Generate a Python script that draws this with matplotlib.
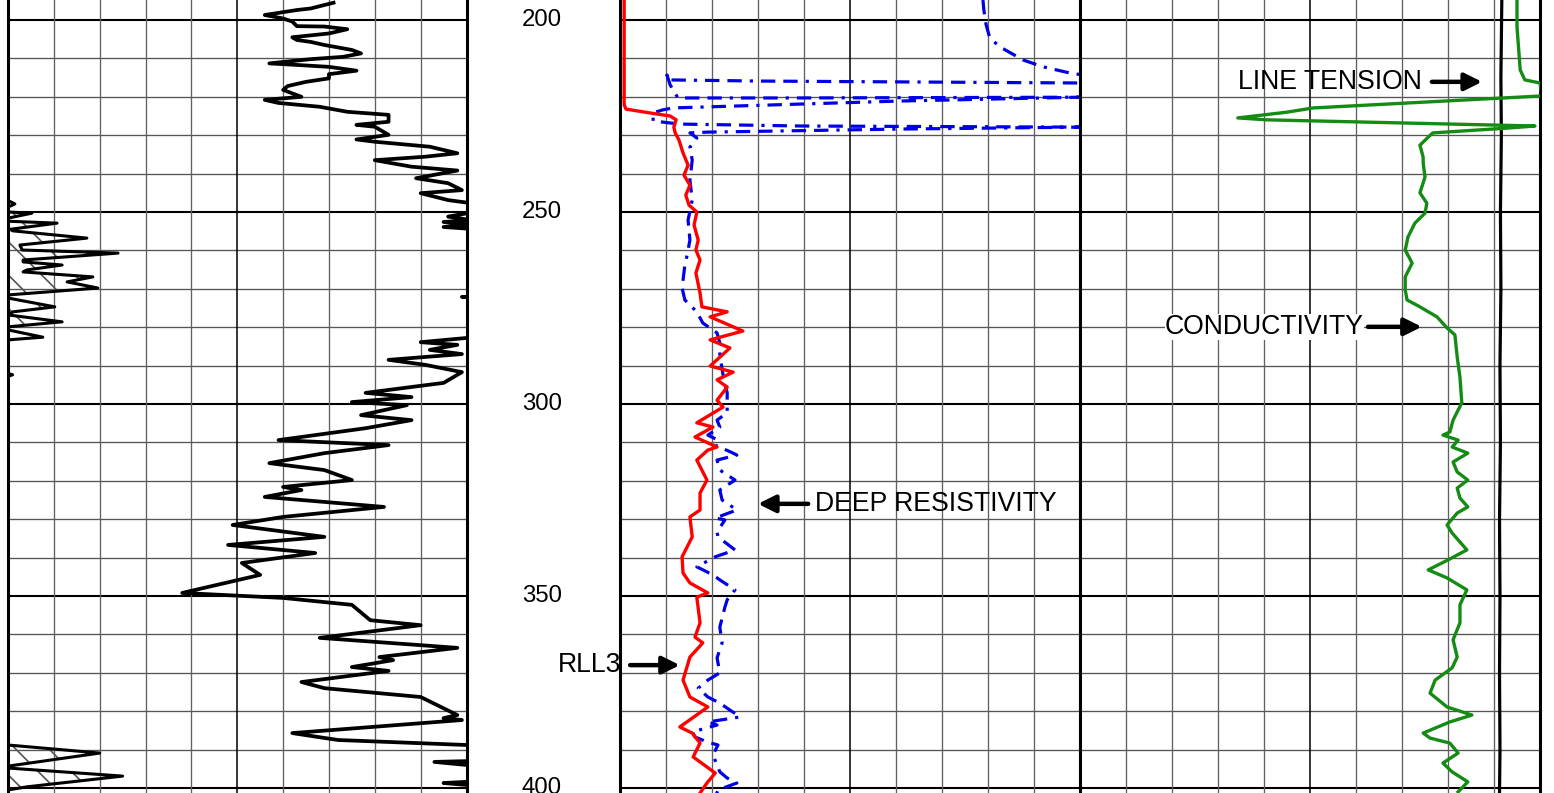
import matplotlib.pyplot as plt

plt.rcParams['font.family'] = ['Liberation Sans', 'DejaVu Sans']
plt.rcParams['hatch.linewidth'] = 1.2

# Depth range shown (ft)
depth_top, depth_bottom = 194.79, 401.30
depth_labels = [200, 250, 300, 350, 400]

# Track 1: gamma ray (0-100 scale, goes off scale to the right)
gr_depth = [195.5, 197.0, 197.4, 198.7, 199.6, 200.4, 201.6, 201.7, 202.4, 203.5, 204.5, 205.2, 205.7, 206.5,
            207.8, 208.7, 209.6, 210.2, 211.3, 211.7, 212.2, 213.2, 214.1, 215.2, 216.1, 217.2, 218.2, 220.0,
            220.8, 221.6, 222.6, 223.9, 224.7, 226.5, 227.3, 227.8, 229.9, 231.1, 231.7, 233.0, 234.7, 235.6,
            236.5, 238.2, 239.2, 241.2, 242.5, 244.3, 245.1, 246.9, 247.7, 249.5, 251.2, 252.1, 252.6, 253.4,
            253.9, 254.4, 255.2, 272.0, 272.1, 272.3, 282.6, 282.8, 283.9, 284.6, 285.9, 287.0, 288.5, 289.8,
            291.7, 294.5, 297.1, 298.2, 299.5, 300.3, 302.9, 304.2, 306.3, 309.4, 310.7, 312.8, 315.4, 317.2,
            319.8, 321.6, 322.4, 324.2, 326.8, 329.4, 331.5, 334.6, 336.7, 338.8, 341.4, 344.5, 349.2, 350.5,
            352.3, 356.3, 357.6, 360.9, 363.5, 365.9, 366.7, 368.5, 369.5, 372.4, 374.0, 376.3, 381.0, 381.8,
            382.3, 385.7, 387.5, 388.8, 389.5, 392.5, 393.0, 393.2, 394.0, 395.0, 398.0, 398.4, 398.7, 399.2,
            400.0, 401.3]
gr_value = [71, 66, 63, 56, 60, 62, 63, 69, 74, 70, 62, 63, 66, 69,
            75, 77, 73, 66, 57, 63, 70, 76, 70, 70, 65, 61, 60, 64,
            56, 59, 68, 74, 83, 83, 76, 80, 83, 76, 80, 92, 98, 91,
            80, 88, 98, 89, 96, 99, 90, 96, 101, 104, 96, 101, 95, 101,
            95, 101, 110, 110, 99, 110, 110, 100, 90, 98, 92, 99, 83, 91,
            99, 95, 78, 88, 75, 87, 77, 88, 78, 59, 83, 69, 57, 69,
            75, 60, 64, 56, 82, 60, 49, 69, 48, 67, 51, 55, 38, 60,
            75, 79, 90, 68, 98, 81, 84, 75, 83, 64, 69, 90, 98, 95,
            99, 62, 72, 100, 110, 110, 100, 93, 100, 110, 110, 100, 95, 100,
            110, 110]

# Track 1: shaded curve near the left edge
sp_depth = [194.8, 247.0, 247.9, 248.7, 250.0, 250.3, 251.6, 252.4, 252.9, 254.5, 254.9, 256.8, 258.6, 259.9,
            260.7, 262.5, 263.0, 263.8, 265.1, 265.6, 266.9, 268.2, 269.8, 271.6, 272.4, 274.7, 276.0, 276.8,
            278.6, 279.9, 280.7, 282.6, 283.3, 292.0, 292.4, 292.8, 388.8, 390.9, 394.3, 394.8, 396.9, 399.7,
            400.5, 401.3]
sp_value = [0, 0, 1.5, 0, 0, 5.2, 0, 0, 10.7, 0.5, 1.0, 17.2, 2.6, 3.1,
            24.0, 3.3, 3.3, 11.8, 4.1, 3.3, 18.5, 12.9, 19.6, 0, 0, 10.2, 1.1, 0,
            11.8, 0, 0, 7.6, 0, 0, 1.0, 0, 0, 20.0, 0, 0, 25.0, 4.1,
            0, 0]

# Track 2: RLL3 (red) and deep resistivity (blue)
rll3_depth = [194.8, 222.1, 223.2, 224.2, 225.0, 226.0, 227.9, 229.4, 231.2, 234.6, 237.8, 240.4, 243.0, 245.6,
              248.2, 250.0, 253.4, 257.3, 259.9, 262.5, 265.9, 271.1, 274.7, 276.0, 277.3, 281.0, 283.3, 285.4,
              290.1, 291.7, 293.7, 295.6, 299.0, 300.8, 304.9, 306.0, 308.6, 311.2, 312.0, 314.6, 319.8, 323.2,
              327.6, 329.4, 334.6, 339.8, 344.0, 346.6, 349.2, 350.3, 357.0, 360.7, 362.2, 365.9, 371.9, 376.3,
              378.9, 384.1, 385.7, 388.3, 391.9, 396.1, 398.7, 401.3]
rll3_value = [0.9, 0.9, 1.3, 6.5, 10.9, 12.2, 11.7, 12.0, 12.8, 13.7, 14.8, 13.9, 15.2, 14.3,
              15.0, 16.7, 16.1, 17.0, 16.5, 17.4, 16.5, 17.4, 17.8, 23.3, 19.6, 26.7, 19.6, 23.9,
              19.6, 24.6, 21.1, 23.3, 21.1, 22.4, 16.7, 20.2, 16.3, 21.1, 19.1, 16.7, 18.9, 17.4,
              17.4, 15.2, 15.7, 13.5, 13.7, 15.2, 19.1, 16.7, 17.4, 16.3, 18.0, 15.2, 13.7, 15.2,
              19.1, 13.0, 15.7, 17.4, 15.9, 20.7, 18.9, 17.4]

deep_depth = [194.8, 197.4, 201.3, 204.7, 207.0, 210.4, 212.2, 213.8, 214.6, 216.4, 216.4, 215.9, 215.6, 214.3,
              216.9, 220.3, 220.3, 220.1, 221.1, 222.9, 223.4, 224.2, 226.3, 227.1, 227.6, 227.9, 228.4, 229.2,
              229.4, 230.7, 233.1, 236.5, 241.7, 246.9, 252.1, 257.3, 261.2, 263.8, 269.8, 272.9, 276.0, 278.9,
              281.5, 284.1, 287.2, 292.4, 297.1, 302.3, 304.2, 306.0, 308.1, 309.4, 310.7, 312.8, 313.3, 314.6,
              317.2, 319.8, 322.4, 325.0, 327.6, 329.7, 330.2, 333.3, 334.6, 338.0, 339.8, 342.4, 344.5, 345.8,
              348.4, 351.0, 352.9, 358.1, 362.2, 366.1, 370.0, 371.9, 374.0, 376.3, 377.9, 381.5, 382.8, 383.6,
              385.4, 386.7, 388.0, 388.8, 391.4, 395.8, 397.4, 398.7, 400.5, 401.8]
deep_value = [78.9, 79.1, 79.6, 80.4, 82.6, 87.6, 92.0, 97.8, 102.2, 102.2, 100.0, 30.4, 10.4, 10.2,
              10.9, 12.6, 39.1, 100.0, 60.9, 11.5, 9.3, 7.2, 7.2, 13.0, 39.1, 100.0, 60.9, 18.9,
              15.2, 16.7, 15.2, 15.7, 15.2, 15.7, 14.8, 15.2, 14.6, 14.1, 13.5, 14.1, 16.7, 18.0,
              21.1, 21.7, 21.7, 22.4, 23.3, 23.3, 21.1, 21.7, 19.1, 21.3, 20.7, 24.6, 25.4, 21.1,
              21.7, 25.0, 21.7, 22.2, 25.4, 20.7, 22.8, 21.1, 21.3, 25.0, 20.7, 16.7, 20.2, 21.7,
              25.0, 23.3, 22.8, 21.7, 22.2, 21.1, 21.7, 19.1, 17.0, 19.1, 21.7, 26.1, 19.1, 21.1,
              15.7, 16.3, 18.9, 21.3, 20.2, 21.7, 23.3, 25.4, 21.3, 20.9]

# Track 3: conductivity (green) and line tension (black)
cond_depth = [194.8, 201.8, 213.0, 215.6, 216.4, 219.5, 219.8, 222.9, 224.0, 225.5, 226.0, 227.6, 228.1, 229.4,
              230.5, 232.6, 235.7, 237.2, 240.9, 245.0, 247.7, 250.3, 252.9, 256.5, 259.9, 263.3, 266.9, 270.3,
              272.9, 274.7, 277.3, 280.2, 282.0, 287.8, 293.0, 299.7, 304.2, 307.3, 308.1, 309.4, 311.2, 312.8,
              315.1, 317.7, 319.8, 321.9, 324.5, 326.8, 328.4, 331.5, 333.6, 338.0, 340.6, 343.2, 345.3, 348.4,
              352.3, 357.0, 361.4, 365.9, 368.7, 371.9, 375.3, 378.9, 381.0, 382.8, 385.7, 387.0, 388.3, 390.9,
              393.5, 395.8, 398.4, 401.0]
cond_value = [95.0, 95.0, 95.7, 96.7, 100.0, 100.4, 100.0, 50.7, 45.0, 34.3, 40.7, 98.9, 93.5, 76.7,
              75.7, 73.9, 74.6, 74.6, 75.0, 73.9, 75.4, 75.0, 72.8, 71.3, 70.7, 72.2, 70.7, 70.7,
              71.1, 73.9, 77.6, 79.8, 81.5, 82.0, 82.6, 83.0, 81.1, 80.4, 78.9, 82.2, 80.9, 84.3,
              81.1, 82.0, 84.3, 82.0, 82.6, 84.3, 82.0, 79.8, 80.9, 84.1, 80.0, 75.7, 79.8, 84.1,
              82.6, 82.6, 81.1, 82.0, 80.9, 77.2, 76.1, 79.8, 85.2, 80.4, 74.6, 76.1, 80.4, 82.2,
              78.9, 80.9, 84.3, 82.2]

tension_depth = [194.8, 215.0, 230.0, 250.0, 270.0, 290.0, 310.0, 330.0, 350.0, 370.0, 390.0, 401.3]
tension_value = [91.7, 91.5, 91.6, 91.4, 91.5, 91.3, 91.4, 91.2, 91.3, 91.2, 91.3, 91.2]

W, H = 1554, 793
fig = plt.figure(figsize=(W / 100, H / 100), dpi=100)


def make_track(x0, x1):
    ax = fig.add_axes([x0 / W, 0, (x1 - x0) / W, 1])
    ax.set_xlim(0, 100)
    ax.set_ylim(depth_bottom, depth_top)
    ax.set_xticks([])
    ax.set_yticks([])
    for d in range(200, 401, 10):
        major = d % 50 == 0
        ax.axhline(d, color='black' if major else '#555555', lw=1.5 if major else 0.95, zorder=0)
    for v in range(10, 100, 10):
        ax.axvline(v, color='black' if v == 50 else '#606060', lw=1.1 if v == 50 else 0.95, zorder=0)
    ax.spines['top'].set_visible(False)
    ax.spines['bottom'].set_visible(False)
    for s in ('left', 'right'):
        ax.spines[s].set_linewidth(2.2)
    return ax


ax1 = make_track(8, 466.5)
ax2 = make_track(620, 1080)
ax3 = make_track(1080, 1540)

# depth column
axd = fig.add_axes([466.5 / W, 0, (620 - 466.5) / W, 1])
axd.set_xlim(0, 1)
axd.set_ylim(depth_bottom, depth_top)
axd.axis('off')
for d in depth_labels:
    axd.text(0.49, d, str(d), ha='center', va='center', fontsize=17.3)

# track 1
ax1.fill_betweenx(sp_depth, 0, sp_value, facecolor='none', edgecolor='#555555', hatch='\\', linewidth=0, zorder=1)
ax1.plot(sp_value, sp_depth, color='black', lw=2.2, zorder=2)
ax1.plot(gr_value, gr_depth, color='black', lw=2.7, zorder=3)

# track 2
ax2.plot(deep_value, deep_depth, color='#0000e6', lw=2.3, dashes=(4.5, 2.5, 4.5, 2.5, 1, 2.5), zorder=2)
ax2.plot(rll3_value, rll3_depth, color='#ff0000', lw=2.4, zorder=3)

# track 3
ax3.plot(tension_value, tension_depth, color='black', lw=2.3, zorder=2)
ax3.plot(cond_value, cond_depth, color='#148c14', lw=2.4, zorder=3)

arrow = dict(arrowstyle='-|>', lw=3.2, color='black', mutation_scale=26, shrinkA=0, shrinkB=0)
label_font = dict(fontsize=19.2, va='center')

ax3.text(34.3, 216.1, 'LINE TENSION', ha='left', **label_font)
ax3.annotate('', xy=(87.4, 216.1), xytext=(76.5, 216.1), arrowprops=arrow)

ax3.text(18.5, 279.9, 'CONDUCTIVITY', ha='left', bbox=dict(facecolor='white', edgecolor='none', pad=0),
         zorder=4, **label_font)
ax3.annotate('', xy=(74.3, 279.9), xytext=(62.6, 279.9), arrowprops=arrow)

ax2.text(42.4, 326.0, 'DEEP RESISTIVITY', ha='left', **label_font)
ax2.annotate('', xy=(30.0, 326.0), xytext=(40.9, 326.0), arrowprops=arrow)

ax2.text(0.3, 368.0, 'RLL3', ha='right', **label_font)
ax2.annotate('', xy=(13.0, 368.0), xytext=(2.2, 368.0), arrowprops=arrow)

fig.savefig('out.png', dpi=100)
